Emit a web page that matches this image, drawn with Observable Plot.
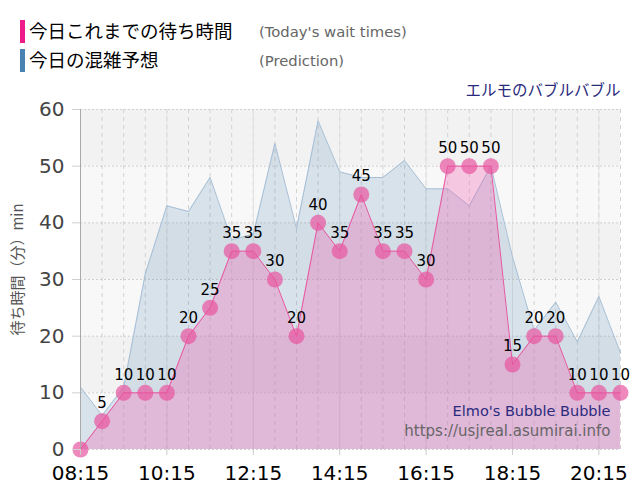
<!DOCTYPE html>
<html>
<head>
<meta charset="utf-8">
<script src="https://cdn.jsdelivr.net/npm/d3@7"></script>
<script src="https://cdn.jsdelivr.net/npm/@observablehq/plot@0.6"></script>
<style>
  body { margin: 0; background: white; font-family: 'DejaVu Sans', 'Noto Sans CJK JP', sans-serif; }
  #legend { position: relative; height: 80px; width: 640px; }
  .bar { position: absolute; left: 20px; width: 5px; height: 23px; }
  .jp { position: absolute; left: 29px; font-family: 'Noto Sans CJK JP', sans-serif; font-size: 18.5px; color: #000; line-height: 23px; }
  .en { position: absolute; left: 259px; font-size: 14.8px; color: #666; line-height: 23px; }
  svg { display: block; }
</style>
</head>
<body>
<div id="legend"></div>
<div id="chart"></div>
<script>
const times = ["08:15","08:45","09:15","09:45","10:15","10:45","11:15","11:45","12:15","12:45","13:15","13:45","14:15","14:45","15:15","15:45","16:15","16:45","17:15","17:45","18:15","18:45","19:15","19:45","20:15","20:45"];
const waits = [0,5,10,10,10,20,25,35,35,30,20,40,35,45,35,35,30,50,50,50,15,20,20,10,10,10];
const preds = [11,6,11,31,43,42,48,37,38,54,39,58,49,48,48,51,46,46,43,50,34,21,26,19,27,17];
const xTickLabels = ["08:15","10:15","12:15","14:15","16:15","18:15","20:15"];
const yTicks = [0,10,20,30,40,50,60];
const bandStarts = [0,10,20,30,40,50];
const legendNames = ["今日これまでの待ち時間","今日の混雑予想"];
const legendNotes = ["(Today's wait times)","(Prediction)"];
const titleText = "エルモのバブルバブル";
const creditText = "Elmo's Bubble Bubble";
const urlText = "https://usjreal.asumirai.info";
const yLabel = "待ち時間（分）min";

const toMin = s => { const [h, m] = s.split(":").map(Number); return h * 60 + m; };
const fmt = v => String(Math.floor(v / 60)).padStart(2, "0") + ":" + String(v % 60).padStart(2, "0");
const data = times.map((t, i) => ({t: toMin(t), wait: waits[i], pred: preds[i]}));
const xTicks = xTickLabels.map(toMin);

// legend
const legendColors = ["#ee1b8a", "#4a82b4"];
const legend = document.getElementById("legend");
legendNames.forEach((n, i) => {
  const top = 20 + i * 29;
  legend.insertAdjacentHTML("beforeend",
    `<div class="bar" style="top:${top}px;background:${legendColors[i]}"></div>` +
    `<div class="jp" style="top:${top - 1}px">${n}</div>` +
    `<div class="en" style="top:${top}px">${legendNotes[i]}</div>`);
});

const font = "'DejaVu Sans','Noto Sans CJK JP',sans-serif";
const chart = Plot.plot({
  width: 640, height: 420,
  marginLeft: 80, marginRight: 20, marginTop: 29, marginBottom: 51,
  style: {fontFamily: font, background: "white", overflow: "visible"},
  x: {type: "linear", domain: [toMin(times[0]), toMin(times[times.length - 1])]},
  y: {domain: [0, 60]},
  marks: [
    Plot.rect(bandStarts, {y1: d => d, y2: d => d + 10, fill: d => (d / 10) % 2 === 0 ? "#f8f8f8" : "#f2f2f2"}),
    Plot.ruleX(data, {x: "t", stroke: "#d2d2d2", strokeDasharray: "4,4"}),
    Plot.gridX(xTicks, {stroke: "#e2e2e2", strokeOpacity: 1}),
    Plot.ruleY(yTicks, {stroke: "#cfcfcf", strokeDasharray: "2,2"}),
    Plot.areaY(data, {x: "t", y: "pred", fill: "rgb(70,130,180)", fillOpacity: 0.18}),
    Plot.lineY(data, {x: "t", y: "pred", stroke: "#a6bfd6", strokeWidth: 1}),
    Plot.areaY(data, {x: "t", y: "wait", fill: "rgb(240,100,180)", fillOpacity: 0.33}),
    Plot.lineY(data, {x: "t", y: "wait", stroke: "#e8559f", strokeWidth: 1}),
    Plot.dot(data, {x: "t", y: "wait", r: 8, fill: "#e8559f", fillOpacity: 0.7}),
    Plot.text(data.filter(d => d.wait > 0), {x: "t", y: "wait", text: d => String(d.wait), dy: -18, fontSize: 15, fill: "black"}),
    Plot.axisX(xTicks, {tickFormat: fmt, fontSize: 20, tickSize: 6, tickPadding: 10, stroke: "#ccc", fill: "black", label: null}),
    Plot.axisY(yTicks, {fontSize: 20, tickSize: 8, tickPadding: 8, stroke: "#d0d0d0", fill: "#444", label: null}),
    Plot.ruleX([toMin(times[0])], {stroke: "#aaa"}),
    Plot.text([titleText], {frameAnchor: "top-right", lineAnchor: "middle", dy: -18, fontSize: 15.5, fill: "#2b2b7d", fontFamily: "'Noto Sans CJK JP',sans-serif"}),
    Plot.text([creditText], {frameAnchor: "bottom-right", lineAnchor: "middle", dx: -10, dy: -38, fontSize: 14.5, fill: "#2b2b7d"}),
    Plot.text([urlText], {frameAnchor: "bottom-right", lineAnchor: "middle", dx: -10, dy: -18, fontSize: 15, fill: "#666"}),
    Plot.text([yLabel], {frameAnchor: "left", rotate: -90, textAnchor: "middle", lineAnchor: "middle", dx: -62, dy: -10, fontSize: 15, fill: "#555", fontFamily: "'Noto Sans CJK JP',sans-serif"})
  ]
});
document.getElementById("chart").appendChild(chart);
</script>
</body>
</html>
